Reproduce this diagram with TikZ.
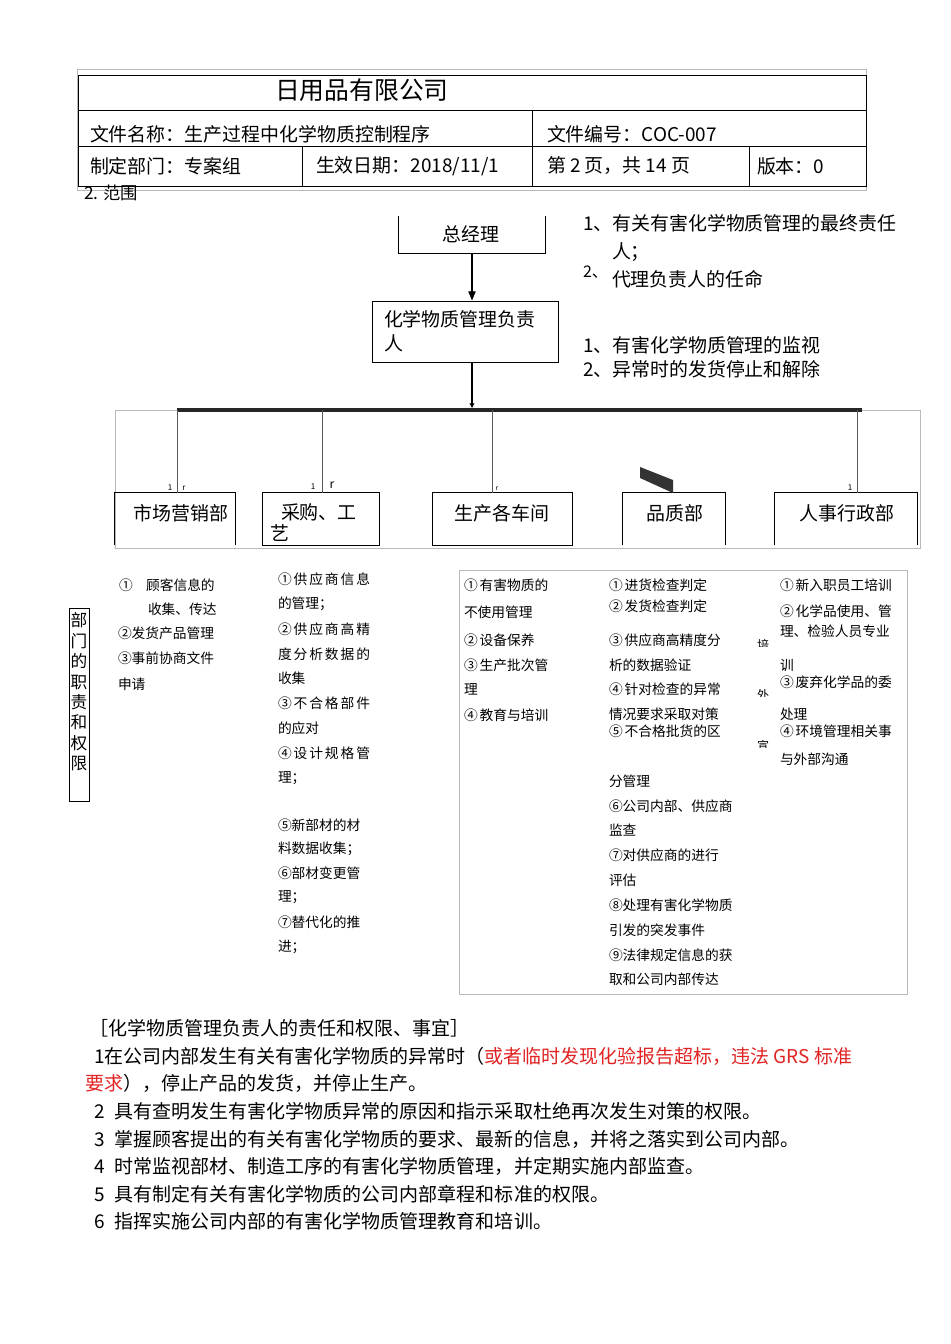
\documentclass[tikz,border=0pt]{standalone}
\usepackage{fontspec}
\setmainfont{Noto Sans CJK SC}
\usetikzlibrary{arrows.meta}
\definecolor{myred}{RGB}{225,35,35}
\definecolor{framegray}{RGB}{185,185,185}
\definecolor{dropgray}{RGB}{90,90,90}
\newcommand{\fsz}[1]{\fontsize{#1}{#1}\selectfont}
\begin{document}
\begin{tikzpicture}[x=0.75pt,y=-0.75pt,
  txt/.style={anchor=west,inner sep=0pt,outer sep=0pt},
  hd/.style={txt,font=\fsz{14.2}},
  org/.style={txt,font=\fsz{14.2}},
  col/.style={txt,font=\fsz{10.3}},
  body/.style={txt,font=\fsz{14.25}},
  boxline/.style={draw=black,line width=0.6pt},
  frameline/.style={draw=framegray,line width=0.6pt},
  drop/.style={draw=dropgray,line width=0.5pt},
  tiny/.style={inner sep=0pt,font=\fsz{6}},
  dbox/.style={inner sep=0pt,minimum height=39pt}]
\useasboundingbox (0,0) rectangle (950,1344);
\fill[white] (0,0) rectangle (950,1344);

% ---------- header table ----------
\draw[frameline] (77,69) rectangle (866,190);
\draw[boxline] (78,75) rectangle (866,186);
\draw[boxline] (78,110) -- (866,110);
\draw[boxline] (78,146) -- (866,146);
\draw[boxline] (532,110) -- (532,186);
\draw[boxline] (302,146) -- (302,186);
\draw[boxline] (749,146) -- (749,186);
\node[txt,font=\fsz{18.6}] (title) at (275,90) {日用品有限公司};
\node[hd] (fname) at (90,134) {文件名称：生产过程中化学物质控制程序};
\node[hd] (fno) at (547,134) {文件编号：COC-007};
\node[hd] (dept) at (90,166) {制定部门：专案组};
\node[hd] (date) at (316,166) {生效日期：2018/11/1};
\node[hd] (page) at (547,166) {第 2 页，共 14 页};
\node[hd] (ver) at (757,166) {版本：0};
\node[txt,font=\fsz{13}] (scope) at (84,193) {2. 范围};

% ---------- org chart ----------
\node[inner sep=0pt,minimum width=110pt,minimum height=27.75pt] (gm) at (472,234.5) {};
\draw[boxline] (gm.north west) -- (gm.south west) -- (gm.south east) -- (gm.north east);
\node[font=\fsz{14.2},inner sep=0pt] (gmt) at (471,234) {总经理};
\node[boxline,inner sep=0pt,minimum width=139.5pt,minimum height=45.75pt] (mgr) at (465,331.5) {};
\node[org] (mgrt1) at (384,319) {化学物质管理负责};
\node[org] (mgrt2) at (384,343) {人};
\draw[line width=1pt,-{Triangle[length=7pt,width=5.5pt]}] (gm.south) -- (gm.south |- mgr.north);

\node[org] (r1) at (583,223) {1、有关有害化学物质管理的最终责任};
\node[org] (r2) at (612,252) {人；};
\node[txt,font=\fsz{12}] (r3n) at (583,272) {2、};
\node[org] (r3) at (612,279) {代理负责人的任命};
\node[org] (r4) at (583,345) {1、有害化学物质管理的监视};
\node[org] (r5) at (583,369) {2、异常时的发货停止和解除};

\coordinate (busL) at (177,410);
\coordinate (busR) at (862,410);
\coordinate (busM) at (472,410);
\coordinate (b2) at (322,410);
\coordinate (b3) at (492,410);
\coordinate (b5) at (857,410);
\draw[frameline] (115,410) rectangle (920,548);
\draw[line width=1pt,-{Triangle[length=3.5pt,width=3.5pt]}] (busM |- mgr.south) -- ([yshift=1.5pt]busM);
\draw[line width=2.3pt,black!85] (busL) -- (busR);

% department boxes
\node[dbox,minimum width=90pt] (d1) at (175,519) {};
\node[dbox,minimum width=87pt] (d2) at (321,519) {};
\node[dbox,minimum width=104.25pt] (d3) at (502.5,519) {};
\node[dbox,minimum width=77pt] (d4) at (674,519) {};
\node[dbox,minimum width=106.5pt] (d5) at (846,519) {};
\draw[boxline] (d1.south west) -- (d1.north west) -- (d1.north east) -- (d1.south east);
\draw[boxline] (d2.south west) rectangle (d2.north east);
\draw[boxline] (d3.south west) rectangle (d3.north east);
\draw[boxline] (d4.south west) -- (d4.north west) -- (d4.north east) -- (d4.south east);
\draw[boxline] (d5.south west) -- (d5.north west) -- (d5.north east) -- (d5.south east);
\node[font=\fsz{14.2},inner sep=0pt] (d1t) at (181,513) {市场营销部};
\node[org] (d2t1) at (281,512) {采购、工};
\node[org] (d2t2) at (270,533) {艺};
\node[font=\fsz{14.2},inner sep=0pt] (d3t) at (502,513) {生产各车间};
\node[font=\fsz{14.2},inner sep=0pt] (d4t) at (675,513) {品质部};
\node[font=\fsz{14.2},inner sep=0pt] (d5t) at (847,513) {人事行政部};

\draw[drop] (busL) -- (busL |- d1.north);
\draw[drop] (b2) -- (b2 |- d2.north);
\draw[drop] (b3) -- (b3 |- d3.north);
\draw[drop] (b5) -- (b5 |- d5.north);
\fill[black!80] (640,467) -- (673,480) -- (673,493) -- (640,478) -- cycle;

\node[tiny] (l1) at (170,488) {1};
\node[tiny] (l2) at (184,488) {r};
\node[tiny] (l3) at (313,487) {1};
\node[inner sep=0pt,font=\fsz{9}] (l4) at (332,485) {r};
\node[inner sep=0pt,font=\fsz{5}] (l5) at (497,489) {r};
\node[tiny] (l6) at (850,488) {1};

% ---------- department duties ----------
\draw[boxline,line width=0.5pt] (69,608) rectangle (89,801);
\node[inner sep=0pt,align=center,font=\fontsize{12.5}{15.3}\selectfont] (vlab) at (79,692) {部\\门\\的\\职\\责\\和\\权\\限};

% column 1
\node[col] (c1a) at (119,585) {①\hspace{10pt}顾客信息的};
\node[col] (c1b) at (148,609) {收集、传达};
\node[col] (c1c) at (118,633) {②发货产品管理};
\node[col] (c1d) at (118,658) {③事前协商文件};
\node[col] (c1e) at (118,684) {申请};

% column 2
\node[col] (c2a) at (278,579) {\makebox[69pt][s]{①\hfil 供\hfil 应\hfil 商\hfil 信\hfil 息}};
\node[col] (c2b) at (278,604) {的管理；};
\node[col] (c2c) at (278,629) {\makebox[69pt][s]{②\hfil 供\hfil 应\hfil 商\hfil 高\hfil 精}};
\node[col] (c2d) at (278,654) {\makebox[69pt][s]{度\hfil 分\hfil 析\hfil 数\hfil 据\hfil 的}};
\node[col] (c2e) at (278,678) {收集};
\node[col] (c2f) at (278,703) {\makebox[69pt][s]{③\hfil 不\hfil 合\hfil 格\hfil 部\hfil 件}};
\node[col] (c2g) at (278,728) {的应对};
\node[col] (c2h) at (278,753) {\makebox[69pt][s]{④\hfil 设\hfil 计\hfil 规\hfil 格\hfil 管}};
\node[col] (c2i) at (278,778) {理；};
\node[col] (c2j) at (278,825) {⑤新部材的材};
\node[col] (c2k) at (278,849) {料数据收集；};
\node[col] (c2l) at (278,873) {⑥部材变更管};
\node[col] (c2m) at (278,897) {理；};
\node[col] (c2n) at (278,922) {⑦替代化的推};
\node[col] (c2o) at (278,947) {进；};

% framed columns 3-5
\draw[frameline] (459,570) rectangle (907,994);
\node[col] (c3a) at (464,585) {①\hspace{1.5pt}有害物质的};
\node[col] (c3b) at (464,612) {不使用管理};
\node[col] (c3c) at (464,640) {②\hspace{1.5pt}设备保养};
\node[col] (c3d) at (464,665) {③\hspace{1.5pt}生产批次管};
\node[col] (c3e) at (464,689) {理};
\node[col] (c3f) at (464,715) {④\hspace{1.5pt}教育与培训};

\node[col] (c4a) at (609,585) {①\hspace{1.5pt}进货检查判定};
\node[col] (c4b) at (609,606) {②\hspace{1.5pt}发货检查判定};
\node[col] (c4c) at (609,640) {③\hspace{1.5pt}供应商高精度分};
\node[col] (c4d) at (609,665) {析的数据验证};
\node[col] (c4e) at (609,689) {④\hspace{1.5pt}针对检查的异常};
\node[col] (c4f) at (609,714) {情况要求采取对策};
\node[col] (c4g) at (609,731) {⑤\hspace{1.5pt}不合格批货的区};
\node[col] (c4h) at (609,781) {分管理};
\node[col] (c4i) at (609,806) {⑥公司内部、供应商};
\node[col] (c4j) at (609,830) {监查};
\node[col] (c4k) at (609,855) {⑦对供应商的进行};
\node[col] (c4l) at (609,880) {评估};
\node[col] (c4m) at (609,905) {⑧处理有害化学物质};
\node[col] (c4n) at (609,930) {引发的突发事件};
\node[col] (c4o) at (609,955) {⑨法律规定信息的获};
\node[col] (c4p) at (609,979) {取和公司内部传达};

\begin{scope}
\clip (755,637) rectangle (772,646);
\node[inner sep=0pt,font=\fsz{9}] (g1) at (763,645) {培};
\end{scope}
\begin{scope}
\clip (755,687) rectangle (772,696);
\node[inner sep=0pt,font=\fsz{9}] (g2) at (763,695) {外};
\end{scope}
\begin{scope}
\clip (755,738) rectangle (772,747);
\node[inner sep=0pt,font=\fsz{9}] (g3) at (763,746) {宣};
\end{scope}

\node[col] (c5a) at (780,585) {①\hspace{1.5pt}新入职员工培训};
\node[col] (c5b) at (780,611) {②\hspace{1.5pt}化学品使用、管};
\node[col] (c5c) at (780,631) {理、检验人员专业};
\node[col] (c5d) at (780,665) {训};
\node[col] (c5e) at (780,682) {③\hspace{1.5pt}废弃化学品的委};
\node[col] (c5f) at (780,714) {处理};
\node[col] (c5g) at (780,731) {④\hspace{1.5pt}环境管理相关事};
\node[col] (c5h) at (780,759) {与外部沟通};

% ---------- bottom text ----------
\node[body] (t0) at (89,1028) {［化学物质管理负责人的责任和权限、事宜］};
\node[body] (t1) at (94,1056) {1在公司内部发生有关有害化学物质的异常时（\textcolor{myred}{或者临时发现化验报告超标，违法 GRS 标准}};
\node[body] (t1b) at (85,1083) {\textcolor{myred}{要求}），停止产品的发货，并停止生产。};
\node[body] (t2) at (94,1111) {2\hspace{0.55em}具有查明发生有害化学物质异常的原因和指示采取杜绝再次发生对策的权限。};
\node[body] (t3) at (94,1139) {3\hspace{0.55em}掌握顾客提出的有关有害化学物质的要求、最新的信息，并将之落实到公司内部。};
\node[body] (t4) at (94,1166) {4\hspace{0.55em}时常监视部材、制造工序的有害化学物质管理，并定期实施内部监查。};
\node[body] (t5) at (94,1194) {5\hspace{0.55em}具有制定有关有害化学物质的公司内部章程和标准的权限。};
\node[body] (t6) at (94,1221) {6\hspace{0.55em}指挥实施公司内部的有害化学物质管理教育和培训。};
\end{tikzpicture}
\end{document}
